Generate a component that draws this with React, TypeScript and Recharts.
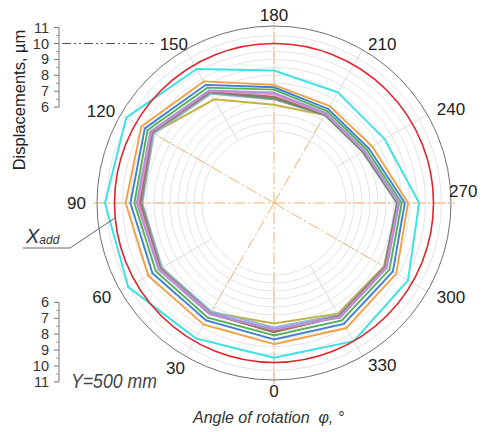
import React from "react";
import { RadarChart, Radar, PolarGrid, PolarAngleAxis, PolarRadiusAxis } from "recharts";

// angle of rotation, degrees
const angles = [0, 30, 60, 90, 120, 150, 180, 210, 240, 270, 300, 330];

// displacements, µm
const cyanRun = [9.7, 9.8, 10.55, 10.6, 10.7, 9.7, 8.3, 8.0, 8.0, 9.1, 9.7, 10.0];
const orangeRun = [8.85, 8.8, 9.1, 9.3, 9.6, 8.8, 7.4, 7.0, 7.1, 8.4, 8.85, 9.05];
const blueRun = [8.55, 8.5, 8.8, 9.0, 9.35, 8.55, 7.25, 6.8, 6.85, 8.2, 8.6, 8.75];
const greenRun = [8.3, 8.3, 8.55, 8.75, 9.15, 8.35, 7.1, 6.65, 6.7, 8.0, 8.35, 8.5];
const purpleRun = [7.9, 8.05, 8.35, 8.6, 8.95, 8.15, 6.9, 6.5, 6.55, 7.85, 8.15, 8.3];
const pinkRun = [7.95, 8.0, 8.3, 8.5, 8.9, 8.1, 6.8, 6.45, 6.5, 7.8, 8.1, 8.25];
const brownRun = [8.1, 8.0, 8.25, 8.4, 8.85, 8.05, 6.65, 6.45, 6.5, 7.8, 8.05, 8.2];
const darkGreenRun = [8.05, 8.0, 8.25, 8.45, 8.85, 8.05, 6.6, 6.4, 6.45, 7.75, 8.05, 8.2];
const grayRun = [8.0, 7.95, 8.2, 8.3, 8.8, 8.0, 6.5, 6.35, 6.4, 7.7, 8.0, 8.15];
const lightBlueRun = [7.8, 7.85, 8.1, 8.25, 8.7, 7.9, 6.5, 6.4, 6.45, 7.7, 8.0, 8.1];
const oliveRun = [7.55, 7.9, 8.15, 8.35, 8.75, 7.5, 6.15, 6.35, 6.5, 7.75, 7.95, 8.0];

const addLimit = 10; // X_add circle
const gridTicks = [4.5, 5, 5.5, 6, 6.5, 7, 7.5, 8, 8.5, 9, 9.5, 10.5];
const scaleLabels = [6, 7, 8, 9, 10, 11];
const scaleMinor = [6.5, 7.5, 8.5, 9.5, 10.5];

// axis lines drawn dash-dot in orange
const fullAxes = [0, 90];
const shortAxes = [
  { angle: 30, to: 7.7 },
  { angle: 120, to: 8.6 },
  { angle: 210, to: 6.2 },
  { angle: 300, to: 7.6 },
];

const series = [
  { key: "olive", color: "#c2b243", values: oliveRun },
  { key: "lightBlue", color: "#8fb3dd", values: lightBlueRun },
  { key: "gray", color: "#8d918c", values: grayRun },
  { key: "darkGreen", color: "#3f9468", values: darkGreenRun },
  { key: "brown", color: "#a27461", values: brownRun },
  { key: "pink", color: "#e892c9", values: pinkRun },
  { key: "purple", color: "#b18fdc", values: purpleRun },
  { key: "green", color: "#52b257", values: greenRun },
  { key: "blue", color: "#3f7fd6", values: blueRun },
  { key: "orange", color: "#f2a043", values: orangeRun },
  { key: "cyan", color: "#3ae3e3", values: cyanRun },
];

const data = angles.map((angle, i) => {
  const row: Record<string, number> = { angle };
  series.forEach((s) => {
    row[s.key] = s.values[i];
  });
  return row;
});

const W = 483;
const H = 432;
const CX = 274;
const CY = 203;
const R_IN = 72;
const R_OUT = 177;
const DOMAIN: [number, number] = [4.5, 11.1];

// same radial mapping the chart uses, for the decorations around it
function toR(v: number) {
  return R_IN + ((v - DOMAIN[0]) / (DOMAIN[1] - DOMAIN[0])) * (R_OUT - R_IN);
}
function pt(angle: number, r: number) {
  const a = (angle * Math.PI) / 180;
  return { x: CX - r * Math.sin(a), y: CY + r * Math.cos(a) };
}

const TOP_10 = CY - toR(10);
const UNIT = toR(11) - toR(10);
const DASH = "12 3 2 3";
const layer: React.CSSProperties = { position: "absolute", left: 0, top: 0, pointerEvents: "none" };

// small nudges so labels sit where the reference puts them
const labelShift: Record<number, { dx: number; dy: number }> = {
  30: { dx: 5, dy: 3 },
  150: { dx: 8, dy: 4 },
  210: { dx: 0, dy: 4 },
  270: { dx: -13, dy: -12 },
  120: { dx: 4, dy: 2 },
};

function AngleTick(props: any) {
  const { x, y, payload, textAnchor } = props;
  const s = labelShift[payload.value] || { dx: 0, dy: 0 };
  return (
    <text x={x + s.dx} y={y + s.dy} textAnchor={textAnchor} dominantBaseline="central" fontSize={17} fill="#222">
      {payload.value}
    </text>
  );
}

function UnderLayer() {
  return (
    <svg width={W} height={H} style={layer}>
      {angles.map((a) => {
        const p1 = pt(a, R_IN);
        const p2 = pt(a, R_OUT);
        return <line key={a} x1={p1.x} y1={p1.y} x2={p2.x} y2={p2.y} stroke="#dcdcdc" />;
      })}
      {fullAxes.map((a) => {
        const p1 = pt(a, 181);
        const p2 = pt(a + 180, 181);
        return <line key={`f${a}`} x1={p1.x} y1={p1.y} x2={p2.x} y2={p2.y} stroke="#f4b36f" strokeDasharray={DASH} />;
      })}
      {shortAxes.map((s) => {
        const p = pt(s.angle, toR(s.to));
        return <line key={`s${s.angle}`} x1={CX} y1={CY} x2={p.x} y2={p.y} stroke="#f4b36f" strokeDasharray={DASH} />;
      })}
    </svg>
  );
}

function OverLayer() {
  const topY = (v: number) => TOP_10 - (v - 10) * UNIT;
  const botY = (v: number) => 366 + (v - 10) * UNIT;
  return (
    <svg width={W} height={H} style={layer}>
      <circle cx={CX} cy={CY} r={toR(addLimit)} fill="none" stroke="#e2232b" strokeWidth={1.6} />

      <text transform="translate(25, 100) rotate(-90)" textAnchor="middle" fontSize={16.5} fill="#222">
        Displacements, µm
      </text>

      {/* upper scale */}
      <line x1={59} y1={topY(11)} x2={59} y2={topY(6)} stroke="#777" />
      {scaleLabels.map((v) => (
        <g key={`t${v}`}>
          <line x1={54} y1={topY(v)} x2={59} y2={topY(v)} stroke="#777" />
          <text x={49} y={topY(v)} textAnchor="end" dominantBaseline="central" fontSize={14.5} fill="#333">
            {v}
          </text>
        </g>
      ))}
      {scaleMinor.map((v) => (
        <line key={`tm${v}`} x1={56} y1={topY(v)} x2={59} y2={topY(v)} stroke="#999" />
      ))}
      <line x1={62} y1={topY(10)} x2={154} y2={topY(10)} stroke="#555" strokeDasharray="9 3 2 3 2 3" />

      {/* lower scale */}
      <line x1={59} y1={botY(6)} x2={59} y2={botY(11)} stroke="#777" />
      {scaleLabels.map((v) => (
        <g key={`b${v}`}>
          <line x1={54} y1={botY(v)} x2={59} y2={botY(v)} stroke="#777" />
          <text x={49} y={botY(v)} textAnchor="end" dominantBaseline="central" fontSize={14.5} fill="#333">
            {v}
          </text>
        </g>
      ))}
      {scaleMinor.map((v) => (
        <line key={`bm${v}`} x1={56} y1={botY(v)} x2={59} y2={botY(v)} stroke="#999" />
      ))}

      <text x={71} y={388} fontSize={20} fontStyle="italic" fill="#444" textLength={86} lengthAdjust="spacingAndGlyphs">
        Y=500 mm
      </text>

      {/* X_add leader */}
      <text x={26} y={243} fontSize={20} fontStyle="italic" fill="#333">
        X
        <tspan fontSize={12} dy={1}>add</tspan>
      </text>
      <polyline points="23,248 70,248 115,218" fill="none" stroke="#666" />

      <text x={193} y={423} fontSize={16} fontStyle="italic" fill="#333">
        Angle of rotation {"\u00a0"}φ, °
      </text>
    </svg>
  );
}

export default function App() {
  return (
    <div
      style={{
        position: "absolute",
        left: 0,
        top: 0,
        width: W,
        height: H,
        background: "#fff",
        fontFamily: "'Liberation Sans', Arial, sans-serif",
      }}
    >
      <UnderLayer />
      <div style={{ position: "absolute", left: 0, top: 0 }}>
        <RadarChart
          width={W}
          height={H}
          data={data}
          cx={CX}
          cy={CY}
          innerRadius={R_IN}
          outerRadius={R_OUT}
          startAngle={-90}
          endAngle={-450}
          margin={{ top: 0, right: 0, bottom: 0, left: 0 }}
        >
          <PolarRadiusAxis type="number" domain={DOMAIN} ticks={gridTicks} tick={false} axisLine={false} />
          <PolarGrid gridType="circle" radialLines={false} stroke="#e4e4e4" />
          <PolarAngleAxis
            dataKey="angle"
            axisLineType="circle"
            axisLine={{ stroke: "#6f6f6f", strokeWidth: 1 }}
            tickLine={false}
            tickSize={11}
            tick={<AngleTick />}
          />
          {series.map((s) => (
            <Radar
              key={s.key}
              dataKey={s.key}
              stroke={s.color}
              strokeWidth={1.9}
              fill="none"
              fillOpacity={0}
              dot={false}
              isAnimationActive={false}
            />
          ))}
        </RadarChart>
      </div>
      <OverLayer />
    </div>
  );
}
